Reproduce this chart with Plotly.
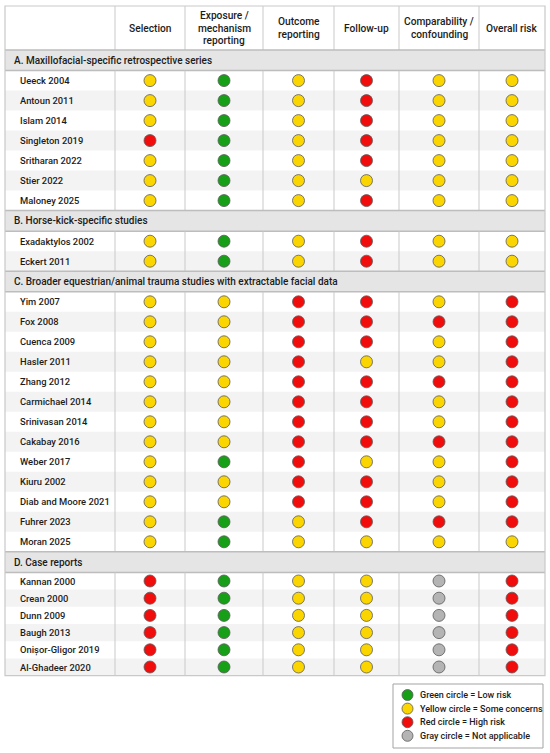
import plotly.graph_objects as go

# ---------------- data ----------------
header_lines = [
    ["Selection"],
    ["Exposure /", "mechanism", "reporting"],
    ["Outcome", "reporting"],
    ["Follow-up"],
    ["Comparability /", "confounding"],
    ["Overall risk"],
]

section_titles = [
    "A. Maxillofacial-specific retrospective series",
    "B. Horse-kick-specific studies",
    "C. Broader equestrian/animal trauma studies with extractable facial data",
    "D. Case reports",
]

# G = low risk, Y = some concerns, R = high risk, N = not applicable
studies_a = ["Ueeck 2004", "Antoun 2011", "Islam 2014", "Singleton 2019",
             "Sritharan 2022", "Stier 2022", "Maloney 2025"]
ratings_a = ["YGYRYY", "YGYRYY", "YGYRYY", "RGYRYY", "YGYRYY", "YGYYYY", "YGYRYY"]

studies_b = ["Exadaktylos 2002", "Eckert 2011"]
ratings_b = ["YGYRYY", "YGYRYY"]

studies_c = ["Yim 2007", "Fox 2008", "Cuenca 2009", "Hasler 2011", "Zhang 2012",
             "Carmichael 2014", "Srinivasan 2014", "Cakabay 2016", "Weber 2017",
             "Kiuru 2002", "Diab and Moore 2021", "Fuhrer 2023", "Moran 2025"]
ratings_c = ["YYRRYR", "YYRRRR", "YYRRYR", "YYRYYR", "YYRRRR", "YYRRYR", "YYRRYR",
             "YYRRRR", "YGRYYR", "YYRRYR", "YYRRYR", "YGYRRR", "YGYYYY"]

studies_d = ["Kannan 2000", "Crean 2000", "Dunn 2009", "Baugh 2013",
             "Onișor-Gligor 2019", "Al-Ghadeer 2020"]
ratings_d = ["RGYYNR", "RGYYNR", "RGYYNR", "RGYYNR", "RGYYNR", "RGYYNR"]

levels = ["G", "Y", "R", "N"]
level_labels = ["Green circle = Low risk", "Yellow circle = Some concerns",
                "Red circle = High risk", "Gray circle = Not applicable"]

# ---------------- style / layout ----------------
W, H = 550, 753
level_colors = {"G": "#17a017", "Y": "#fbd500", "R": "#f20d0d", "N": "#b4b4b4"}
FONT = "Roboto"
TXT = "#1c1c1c"
GRID = "#c9c9c9"
SEC_LINE = "#bdbdbd"

col_edges = [5, 115, 185, 263, 334, 399, 479, 545]
col_centers = [(a + b) / 2 for a, b in zip(col_edges[1:-1], col_edges[2:])]
top = 6
header_h = 44
sec_h = 20.6
row_heights = [20, 20, 20, 17.2]

groups = [(studies_a, ratings_a), (studies_b, ratings_b),
          (studies_c, ratings_c), (studies_d, ratings_d)]

shapes = []
annotations = []
pts = {k: ([], []) for k in levels}


def vlines(y0, y1):
    for xe in col_edges[1:-1]:
        shapes.append(dict(type="line", x0=xe, x1=xe, y0=y0, y1=y1,
                           line=dict(color=GRID, width=1)))


# header row
for cx, lines in zip(col_centers, header_lines):
    n = len(lines)
    for i, t in enumerate(lines):
        yy = top + header_h / 2 + (i - (n - 1) / 2) * 12.6
        annotations.append(dict(x=cx, y=yy, text=t, showarrow=False,
                                xanchor="center", yanchor="middle",
                                font=dict(family=FONT, size=10.2, color=TXT, weight=500)))
vlines(top, top + header_h)

y = top + header_h
for (title, (names, rats), rh) in zip(section_titles, groups, row_heights):
    shapes.append(dict(type="rect", x0=col_edges[0], x1=col_edges[-1], y0=y, y1=y + sec_h,
                       fillcolor="#e5e5e5", line=dict(width=0), layer="below"))
    for yl in (y, y + sec_h):
        shapes.append(dict(type="line", x0=col_edges[0], x1=col_edges[-1], y0=yl, y1=yl,
                           line=dict(color=SEC_LINE, width=1.5)))
    annotations.append(dict(x=12, y=y + sec_h / 2, text=title, showarrow=False,
                            xanchor="left", yanchor="middle",
                            font=dict(family=FONT, size=10, color=TXT, weight=500)))
    y += sec_h
    block_top = y
    for i, (name, r) in enumerate(zip(names, rats)):
        if i % 2 == 1:
            shapes.append(dict(type="rect", x0=col_edges[0], x1=col_edges[-1], y0=y, y1=y + rh,
                               fillcolor="#f3f3f3", line=dict(width=0), layer="below"))
        yc = y + rh / 2
        annotations.append(dict(x=18, y=yc, text=name, showarrow=False,
                                xanchor="left", yanchor="middle",
                                font=dict(family=FONT, size=9.4, color=TXT, weight=500)))
        for cx, code in zip(col_centers, r):
            pts[code][0].append(cx)
            pts[code][1].append(yc)
        y += rh
    vlines(block_top, y)

table_bottom = y
shapes.append(dict(type="rect", x0=col_edges[0], x1=col_edges[-1], y0=top, y1=table_bottom,
                   line=dict(color=GRID, width=1.2)))

fig = go.Figure()
for code in levels:
    xs, ys = pts[code]
    fig.add_trace(go.Scatter(
        x=xs, y=ys, mode="markers", showlegend=False, hoverinfo="skip",
        marker=dict(size=12, color=level_colors[code], line=dict(color="#5a5a5a", width=0.8)),
    ))

# custom key box
box = dict(x0=393, x1=543, y0=684, y1=748)
shapes.append(dict(type="rect", **box, line=dict(color="#a3a3a3", width=1),
                   fillcolor="white", layer="below"))
key_y = [box["y0"] + 11 + i * 13.6 for i in range(len(levels))]
fig.add_trace(go.Scatter(
    x=[407.5] * len(levels), y=key_y, mode="markers", showlegend=False, hoverinfo="skip",
    marker=dict(size=11, color=[level_colors[c] for c in levels],
                line=dict(color="#5a5a5a", width=0.8)),
))
for yy, lab in zip(key_y, level_labels):
    annotations.append(dict(x=418, y=yy, text=lab, showarrow=False,
                            xanchor="left", yanchor="middle",
                            font=dict(family=FONT, size=9, color=TXT, weight=500)))

fig.update_layout(
    width=W, height=H, margin=dict(l=0, r=0, t=0, b=0),
    paper_bgcolor="white", plot_bgcolor="white",
    xaxis=dict(range=[0, W], visible=False, fixedrange=True),
    yaxis=dict(range=[H, 0], visible=False, fixedrange=True),
    shapes=shapes, annotations=annotations,
)

# the page body has a default 8px margin; drop it so the figure sits at 0,0
fig.write_html("out.html", config=dict(displayModeBar=False),
               post_script="document.body.style.margin='0';document.body.style.overflow='hidden';")
